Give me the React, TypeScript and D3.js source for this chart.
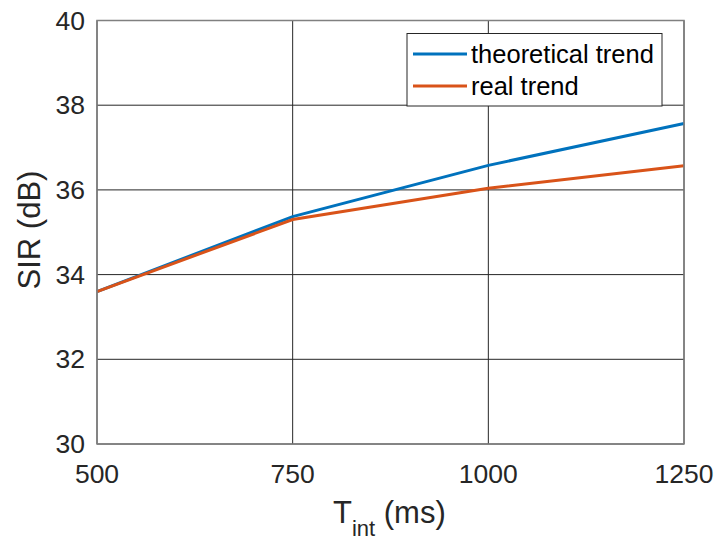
import React from "react";
import * as d3 from "d3";

const xTicks = [500, 750, 1000, 1250];
const yTicks = [30, 32, 34, 36, 38, 40];
const tInt = [500, 750, 1000, 1250];
const theoretical = [33.6, 35.37, 36.58, 37.57];
const real = [33.6, 35.3, 36.04, 36.57];
const seriesNames = ["theoretical trend", "real trend"];
const seriesColors = ["#0072BD", "#D95319"];

const W = 718, H = 541;
const M = { left: 97, right: 684, top: 20.5, bottom: 444 };
const FONT = "'Liberation Sans', Arial, Helvetica, sans-serif";

export default function App() {
  const x = d3.scaleLinear().domain([500, 1250]).range([M.left, M.right]);
  const y = d3.scaleLinear().domain([30, 40]).range([M.bottom, M.top]);
  const line = d3
    .line<[number, number]>()
    .x((d) => x(d[0]))
    .y((d) => y(d[1]));
  const series = [theoretical, real];
  return (
    <svg
      width={W}
      height={H}
      style={{ position: "absolute", left: 0, top: 0, background: "#fff" }}
      fontFamily={FONT}
    >
      <rect x={0} y={0} width={W} height={H} fill="#fff" />
      {xTicks.map((t) => (
        <line key={"gx" + t} x1={x(t)} x2={x(t)} y1={M.top} y2={M.bottom} stroke="#262626" strokeWidth={1} />
      ))}
      {yTicks.map((t) => (
        <line key={"gy" + t} x1={M.left} x2={M.right} y1={y(t)} y2={y(t)} stroke="#262626" strokeWidth={1} />
      ))}
      {series.map((s, i) => (
        <path
          key={"s" + i}
          d={line(tInt.map((t, j) => [t, s[j]] as [number, number])) || ""}
          fill="none"
          stroke={seriesColors[i]}
          strokeWidth={3}
        />
      ))}
      <rect
        x={M.left}
        y={M.top}
        width={M.right - M.left}
        height={M.bottom - M.top}
        fill="none"
        stroke="#808080"
        strokeWidth={1.5}
      />
      {xTicks.map((t) => (
        <text key={"tx" + t} x={x(t)} y={483} textAnchor="middle" fontSize={26.5} fill="#262626">
          {t}
        </text>
      ))}
      {yTicks.map((t) => (
        <text key={"ty" + t} x={85} y={y(t) + 9} textAnchor="end" fontSize={26.5} fill="#262626">
          {t}
        </text>
      ))}
      <text x={333} y={523} fontSize={31} fill="#262626">
        T
        <tspan fontSize={22} dy={13}>int</tspan>
        <tspan dy={-13}> (ms)</tspan>
      </text>
      <text
        transform={`translate(40,230) rotate(-90)`}
        textAnchor="middle"
        fontSize={31}
        fill="#262626"
      >
        SIR (dB)
      </text>
      <rect x={407} y={33.5} width={255} height={72.5} fill="#fff" stroke="#262626" strokeWidth={1} />
      {seriesNames.map((n, i) => (
        <g key={"lg" + i}>
          <line x1={413} x2={467} y1={54 + i * 32} y2={54 + i * 32} stroke={seriesColors[i]} strokeWidth={3} />
          <text x={471} y={54 + i * 32 + 9} fontSize={25.5} fill="#000">
            {n}
          </text>
        </g>
      ))}
    </svg>
  );
}
